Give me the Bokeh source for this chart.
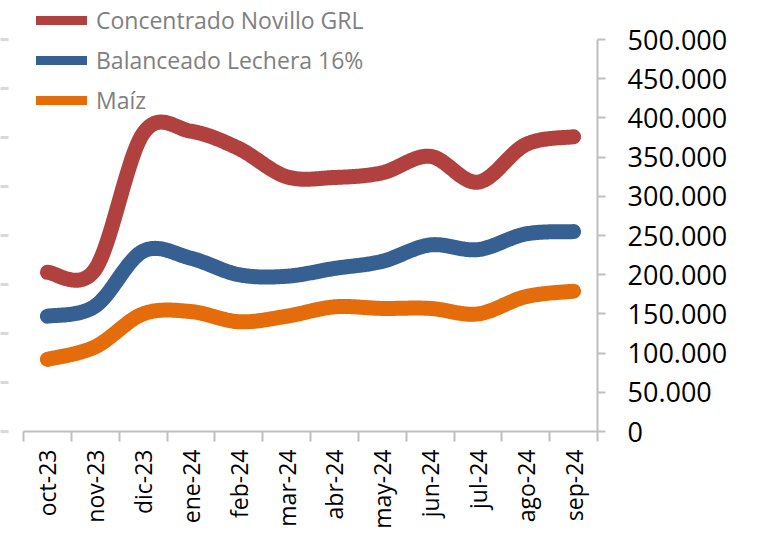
import math
import numpy as np
from bokeh.plotting import figure
from bokeh.models import Range1d, LinearAxis, FixedTicker, Legend, LegendItem
from bokeh.embed import file_html
from bokeh.resources import INLINE

# ---- data ----
months = ["oct-23", "nov-23", "dic-23", "ene-24", "feb-24", "mar-24",
          "abr-24", "may-24", "jun-24", "jul-24", "ago-24", "sep-24"]
concentrado = [203000, 207000, 380000, 383000, 361000, 325000,
               324000, 330000, 351000, 318000, 366000, 376000]
balanceado = [147000, 160000, 230000, 221000, 200000, 198000,
              208000, 217000, 238000, 232000, 252000, 255000]
maiz = [92000, 108000, 150000, 153000, 140000, 147000,
        159000, 157000, 157000, 150000, 172000, 179000]
series_names = ["Concentrado Novillo GRL", "Balanceado Lechera 16%", "Maíz"]
series_colors = ["#B0413E", "#366092", "#E46C0A"]
y_ticks = [0, 50000, 100000, 150000, 200000, 250000, 300000, 350000, 400000, 450000, 500000]
y_tick_labels = ["0", "50.000", "100.000", "150.000", "200.000", "250.000",
                 "300.000", "350.000", "400.000", "450.000", "500.000"]
left_ticks = [0, 1, 2, 3, 4, 5, 6, 7, 8]

FONT = "Open Sans"
AXIS_GRAY = "#BFBFBF"

# layout: the frame extends above the axes' top so the legend (which sits partly
# above the value range) is not clipped; the axis lines stop at their last tick.
AXIS_PX = 392          # pixel height of the 0..500.000 span
FRAME_PX = 427         # frame height (adds headroom for the legend)
headroom = FRAME_PX / AXIS_PX


def smooth(xs, ys, n=40):
    """Excel-like smoothed line: cubic Bezier segments with Catmull-Rom tangents."""
    xs = np.asarray(xs, float)
    ys = np.asarray(ys, float)
    px = np.concatenate([[xs[0]], xs, [xs[-1]]])
    py = np.concatenate([[ys[0]], ys, [ys[-1]]])
    t = np.linspace(0, 1, n)
    ox, oy = [], []
    for i in range(len(xs) - 1):
        p0x, p1x, p2x, p3x = px[i:i + 4]
        p0y, p1y, p2y, p3y = py[i:i + 4]
        c1x, c1y = p1x + (p2x - p0x) / 6, p1y + (p2y - p0y) / 6
        c2x, c2y = p2x - (p3x - p1x) / 6, p2y - (p3y - p1y) / 6
        bx = (1 - t) ** 3 * p1x + 3 * (1 - t) ** 2 * t * c1x + 3 * (1 - t) * t ** 2 * c2x + t ** 3 * p2x
        by = (1 - t) ** 3 * p1y + 3 * (1 - t) ** 2 * t * c1y + 3 * (1 - t) * t ** 2 * c2y + t ** 3 * p2y
        if i > 0:
            bx, by = bx[1:], by[1:]
        ox.extend(bx.tolist())
        oy.extend(by.tolist())
    return ox, oy


centers = [i + 0.5 for i in range(len(months))]
boundaries = list(range(len(months) + 1))

p = figure(frame_width=574, frame_height=FRAME_PX,
           x_range=Range1d(0, len(months)),
           y_range=Range1d(0, y_ticks[-1] * headroom),
           y_axis_location="right", output_backend="svg", toolbar_location=None,
           min_border_left=23, min_border_top=4, min_border_right=0, min_border_bottom=0)
p.outline_line_color = None
p.xgrid.visible = False
p.ygrid.visible = False
p.background_fill_color = "white"
p.border_fill_color = "white"

# right value axis
ya = p.yaxis[0]
ya.ticker = FixedTicker(ticks=y_ticks)
ya.bounds = (y_ticks[0], y_ticks[-1])
ya.major_label_overrides = {v: s for v, s in zip(y_ticks, y_tick_labels)}
ya.axis_line_color = AXIS_GRAY
ya.axis_line_width = 2
ya.major_tick_line_color = AXIS_GRAY
ya.major_tick_line_width = 2
ya.major_tick_in = 0
ya.major_tick_out = 8
ya.minor_tick_line_color = None
ya.major_label_standoff = 22
ya.major_label_text_font = FONT
ya.major_label_text_font_size = "27px"
ya.major_label_text_color = "#000000"

# category axis
xa = p.xaxis[0]
xa.ticker = FixedTicker(ticks=centers, minor_ticks=boundaries)
xa.major_label_overrides = {c: m for c, m in zip(centers, months)}
xa.major_tick_line_color = None
xa.major_tick_in = 0
xa.major_tick_out = 0
xa.minor_tick_line_color = AXIS_GRAY
xa.minor_tick_line_width = 2
xa.minor_tick_in = 0
xa.minor_tick_out = 10
xa.axis_line_color = AXIS_GRAY
xa.axis_line_width = 2
xa.major_label_orientation = math.pi / 2
xa.major_label_standoff = 8
xa.major_label_text_font = FONT
xa.major_label_text_font_size = "23px"
xa.major_label_text_color = "#000000"

# left secondary axis (only its tick marks are visible)
p.extra_y_ranges = {"left": Range1d(left_ticks[0], left_ticks[-1] * headroom)}
la = LinearAxis(y_range_name="left", ticker=FixedTicker(ticks=left_ticks))
la.bounds = (left_ticks[0], left_ticks[-1])
la.axis_line_color = None
la.major_tick_line_color = "#D9D9D9"
la.major_tick_line_width = 3
la.major_tick_in = -15
la.major_tick_out = 23
la.minor_tick_line_color = None
la.major_label_overrides = {t: "" for t in left_ticks}
la.major_label_standoff = 0
la.major_label_text_font_size = "1px"
p.add_layout(la, "left")

# lines
for vals, col in zip([concentrado, balanceado, maiz], series_colors):
    sx, sy = smooth(centers, vals)
    p.line(sx, sy, line_width=15, line_color=col, line_cap="round", line_join="round")

# legend (swatch renderers that draw nothing in the plot)
items = []
for name, col in zip(series_names, series_colors):
    r = p.line(x=[np.nan], y=[np.nan], line_width=9, line_color=col, line_cap="round")
    items.append(LegendItem(label=name, renderers=[r]))

legend = Legend(items=items, location=(13, 315), orientation="vertical",
                border_line_color=None, background_fill_alpha=0,
                padding=0, margin=0, spacing=8, glyph_width=51, glyph_height=20,
                label_standoff=9, label_height=20,
                label_text_font=FONT, label_text_font_size="23px",
                label_text_color="#808080")
p.add_layout(legend, "center")

open("out.html", "w").write(file_html(p, INLINE))
